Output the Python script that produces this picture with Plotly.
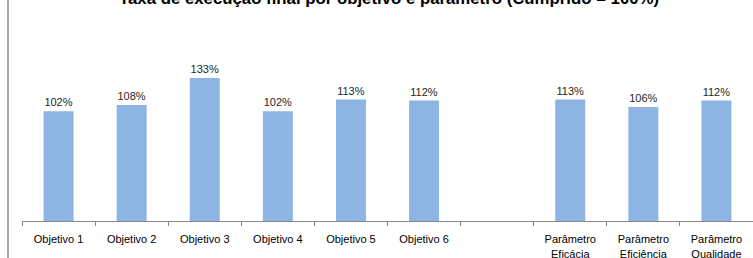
import plotly.graph_objects as go

categories = ["Objetivo 1", "Objetivo 2", "Objetivo 3", "Objetivo 4", "Objetivo 5",
              "Objetivo 6", " ", "Parâmetro<br>Eficácia", "Parâmetro<br>Eficiência",
              "Parâmetro<br>Qualidade"]
values = [1.02, 1.08, 1.33, 1.02, 1.13, 1.12, None, 1.13, 1.06, 1.12]
labels = ["102%", "108%", "133%", "102%", "113%", "112%", "", "113%", "106%", "112%"]
title = "Taxa de execução final por objetivo e parâmetro (Cumprido = 100%)"

W, H = 753, 258
ml, mr, mt, mb = 22, 0, 20, 37
ph = H - mt - mb

fig = go.Figure()
fig.add_trace(go.Bar(
    x=categories, y=values, text=labels, textposition="outside",
    textfont=dict(family="Liberation Sans, Arial", size=11, color="#262626"),
    marker=dict(color="#8DB4E2", line=dict(width=0)),
    cliponaxis=False, width=0.41, hoverinfo="skip",
))
fig.update_layout(
    width=W, height=H,
    margin=dict(l=ml, r=mr, t=mt, b=mb, autoexpand=False),
    paper_bgcolor="white", plot_bgcolor="white",
    showlegend=False,
    bargap=0.59,
    annotations=[dict(
        text="<b>" + title + "</b>", xref="paper", yref="paper",
        x=(389 - ml) / (W - ml - mr), y=1 + mt / ph, xanchor="center", yanchor="bottom",
        yshift=-10, showarrow=False,
        font=dict(family="Liberation Sans, Arial", size=16.8, color="#000000"),
    )],
    shapes=[dict(
        type="line", xref="paper", yref="paper",
        x0=(8 - ml) / (W - ml - mr), x1=(8 - ml) / (W - ml - mr),
        y0=-mb / ph, y1=1 + mt / ph,
        line=dict(color="#A6A6A6", width=2),
    )],
)
fig.update_xaxes(
    type="category", showline=True, linecolor="#868686", linewidth=1,
    ticks="outside", ticklen=4, tickcolor="#868686", tickson="boundaries",
    tickfont=dict(family="Liberation Sans, Arial", size=11, color="#000000"),
    ticklabelstandoff=8,
    showgrid=False, zeroline=False, tickangle=0, automargin=False,
)
fig.update_yaxes(range=[0, ph / 107.5], visible=False, showgrid=False, zeroline=False,
                 automargin=False)
fig.write_html("out.html", config={"displayModeBar": False},
               post_script="document.body.style.margin='0';document.body.style.overflow='hidden';")
